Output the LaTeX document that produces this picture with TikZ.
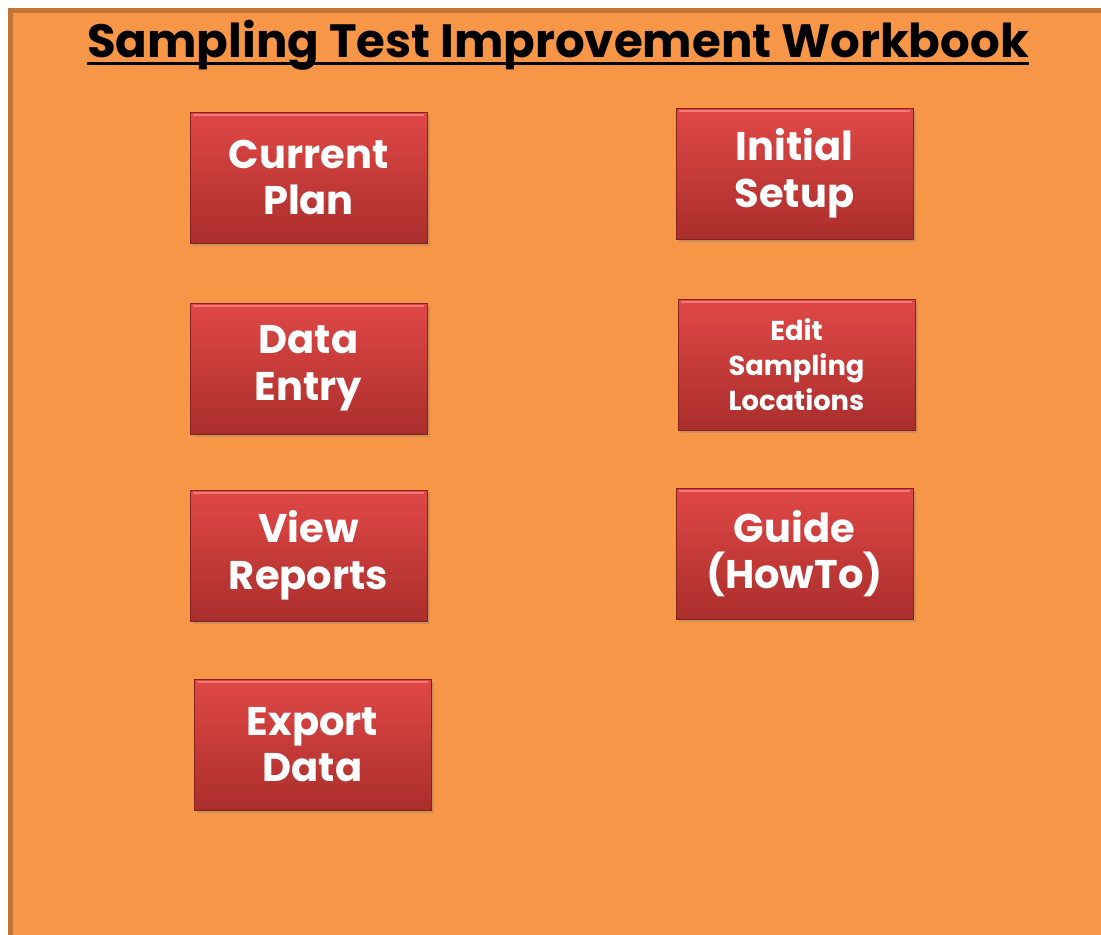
\documentclass[tikz,border=0pt]{standalone}
\usepackage{fontspec}
\setmainfont{Poppins}
\usetikzlibrary{shadows}

\definecolor{bgorange}{RGB}{247,150,70}
\definecolor{rimorange}{RGB}{193,117,55}
\definecolor{btntop}{RGB}{224,72,70}
\definecolor{btnbot}{RGB}{170,46,44}
\definecolor{btnrim}{RGB}{132,34,32}
\definecolor{btnlight}{RGB}{240,120,118}

\begin{document}
\begin{tikzpicture}[x=0.75pt,y=-0.75pt,
  button/.style={rectangle, minimum width=177.75pt, minimum height=98.25pt, inner sep=0pt,
    align=center, text=white, top color=btntop, bottom color=btnbot, draw=btnrim, line width=0.6pt,
    drop shadow={shadow xshift=2pt, shadow yshift=-2.5pt, opacity=0.35},
    font=\bfseries\fontsize{30}{35}\selectfont},
  smallbutton/.style={button, font=\bfseries\fontsize{20.5}{26}\selectfont},
  bevel/.style={btnlight, line width=1.5pt}]
\useasboundingbox (0,0) rectangle (1101,935);
% sheet
\fill[white] (0,0) rectangle (1101,935);
\fill[rimorange] (8,8) rectangle (1101,935);
\fill[bgorange] (13,13) rectangle (1101,935);

% title
\node[font=\bfseries\fontsize{35}{40}\selectfont, inner sep=0pt, anchor=base] (title) at (558,57)
  {Sampling Test Improvement Workbook};
\draw[line width=2.3pt] ([yshift=-5pt]title.base west) -- ([yshift=-5pt]title.base east);

% left column
\node[button] (plan) at (308.5,177.5) {Current\\Plan};
\node[button] (entry) at (308.5,368.5) {Data\\Entry};
\node[button] (reports) at (308.5,555.5) {View\\Reports};
\node[button] (export) at (312.5,744.5) {Export\\Data};

% right column
\node[button] (setup) at (794.5,173.5) {Initial\\Setup};
\node[smallbutton] (locations) at (796.5,364.5) {Edit\\Sampling\\Locations};
\node[button] (guide) at (794.5,553.5) {Guide\\(HowTo)};

% top highlights
\foreach \b in {plan,entry,reports,export,setup,locations,guide}
  \draw[bevel] ([shift={(3,3)}]\b.north west) -- ([shift={(-3,3)}]\b.north east);
\end{tikzpicture}
\end{document}
